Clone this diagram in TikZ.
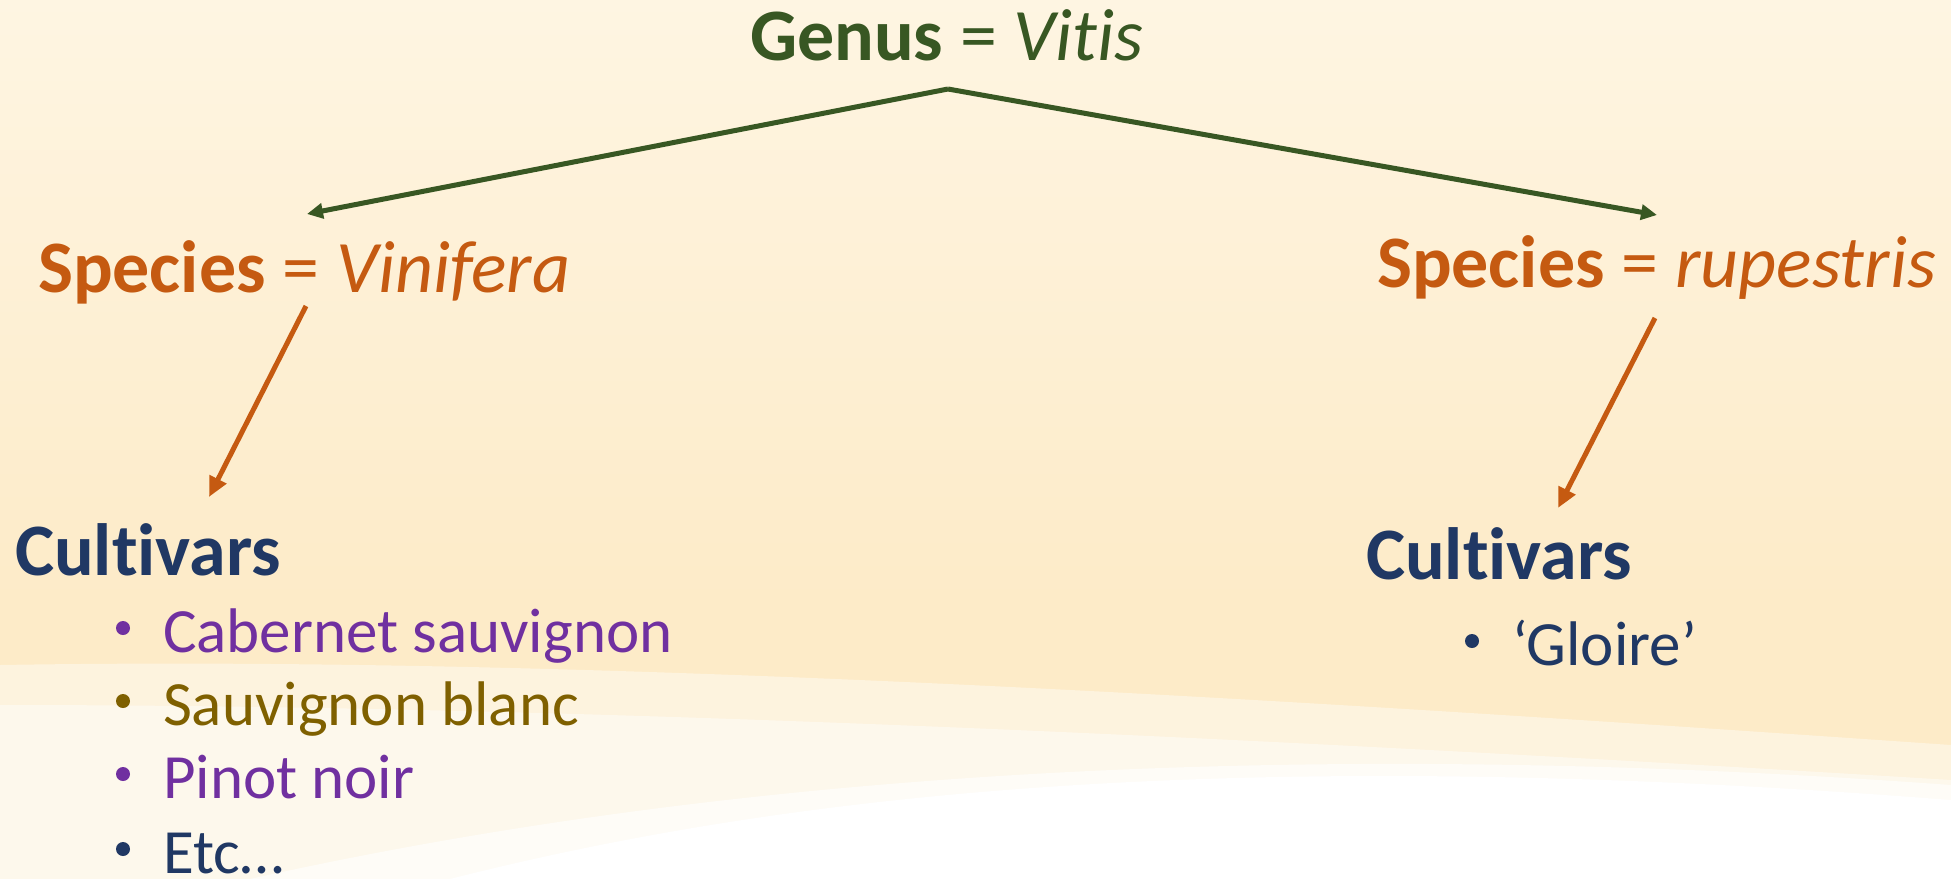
\documentclass[tikz,border=0pt]{standalone}
\usepackage{fontspec}
\setmainfont{Carlito}[Ligatures={NoCommon}]
\usetikzlibrary{arrows.meta}
\definecolor{cgreen}{HTML}{385723}
\definecolor{corange}{HTML}{C55A11}
\definecolor{cnavy}{HTML}{203864}
\definecolor{cpurple}{HTML}{7030A0}
\definecolor{colive}{HTML}{7F6000}
\definecolor{bgtop}{HTML}{FEF5E2}
\definecolor{bgbot}{HTML}{FDEBC8}
\tikzset{
  lbl/.style={inner sep=0pt, outer sep=0pt, anchor=base west},
  head/.style={lbl, font=\fontsize{74}{80}\selectfont},
  itemtxt/.style={lbl, font=\fontsize{63}{70}\selectfont},
  bul/.style={circle, fill, inner sep=0pt, minimum size=14pt},
  garrow/.style={draw=cgreen, line width=5pt, -{Triangle[length=16pt,width=15pt]}},
  oarrow/.style={draw=corange, line width=5pt, -{Triangle[length=20pt,width=18pt]}}
}
\begin{document}
\begin{tikzpicture}[x=1pt,y=-1pt]
\useasboundingbox (0,0) rectangle (1951,879);
% background
\fill[top color=bgtop, bottom color=bgbot] (0,0) rectangle (1951,600);
\fill[bgbot] (0,599) rectangle (1951,879);
\fill[white, opacity=0.4] (0,665) .. controls (600,655) and (1300,700) .. (1951,745) -- (1951,879) -- (0,879) -- cycle;
\fill[white, opacity=0.45] (0,705) .. controls (600,705) and (1300,740) .. (1951,780) -- (1951,879) -- (0,879) -- cycle;
\fill[white, opacity=0.6] (250,879) .. controls (650,790) and (1200,730) .. (1951,785) -- (1951,879) -- cycle;
\fill[white] (450,879) .. controls (800,790) and (1250,745) .. (1951,800) -- (1951,879) -- cycle;

% texts
\node[head, text=cgreen] (genus) at (750,60) {\textbf{Genus} = \textit{Vitis}};
\node[head, text=corange] (vin) at (38,292) {\textbf{Species} = \textit{Vinifera}};
\node[head, text=corange] (rup) at (1377,287) {\textbf{Species} = \textit{rupestris}};
\node[head, text=cnavy] (cultL) at (15,575) {\textbf{Cultivars}};
\node[head, text=cnavy] (cultR) at (1366,579) {\textbf{Cultivars}};

\node[itemtxt, text=cpurple] (cab) at (163,652) {Cabernet sauvignon};
\node[itemtxt, text=colive] (sb) at (163,725) {Sauvignon blanc};
\node[itemtxt, text=cpurple] (pn) at (163,798) {Pinot noir};
\node[itemtxt, text=cnavy] (etc) at (163,873) {Etc…};
\node[itemtxt, text=cnavy] (gl) at (1512,665) {‘Gloire’};

\node[bul, cpurple] (b1) at (123,628) {};
\node[bul, colive] (b2) at (123,701) {};
\node[bul, cpurple] (b3) at (123,774) {};
\node[bul, cnavy] (b4) at (123,849) {};
\node[bul, cnavy] (b5) at (1472,641) {};

% connectors
\coordinate (apex) at (948,89);
\coordinate (vinTop) at (307,214);
\coordinate (rupTop) at (1657,215);
\coordinate (vinFoot) at (306,306);
\coordinate (rupFoot) at (1655,318);
\coordinate (cultLTop) at (209,497);
\coordinate (cultRTop) at (1558,508);
\draw[garrow] (apex) -- (vinTop);
\draw[garrow] (apex) -- (rupTop);
\draw[oarrow] (vinFoot) -- (cultLTop);
\draw[oarrow] (rupFoot) -- (cultRTop);
\end{tikzpicture}
\end{document}
